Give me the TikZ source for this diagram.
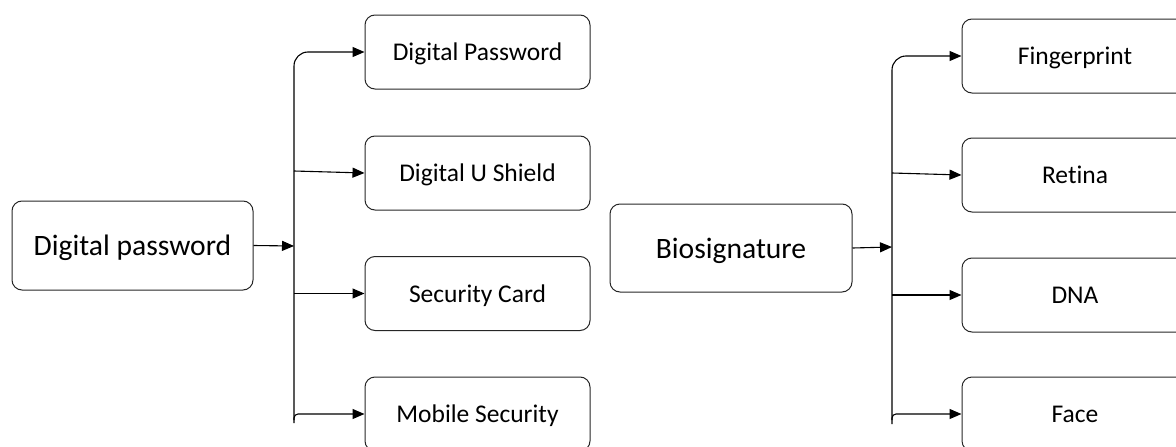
\documentclass[tikz,border=0pt]{standalone}
\usepackage{fontspec}
\setmainfont[Ligatures={NoCommon,NoContextual,NoRequired}]{Carlito}
\usetikzlibrary{arrows.meta}
\tikzset{
  box/.style={draw=black!85, line width=1pt, rounded corners=10pt, minimum width=225pt, minimum height=74pt, inner sep=0pt, text depth=0pt, font=\fontsize{25.5}{30}\selectfont},
  bigbox/.style={box, minimum width=241pt, minimum height=89pt, font=\fontsize{29.6}{34}\selectfont},
  arr/.style={draw=black, line width=1.1pt, -{Triangle[length=12pt,width=10pt]}},
  ln/.style={draw=black, line width=1pt}
}
\begin{document}
\begin{tikzpicture}[x=1pt,y=-1pt]
\path[use as bounding box] (0,0) rectangle (1176,447);
\clip (0,0) rectangle (1176,447);
% left group
\node[bigbox] (dp) at (132.5,245.5) {Digital password};
\node[box] (l1) at (477.5,52) {Digital Password};
\node[box] (l2) at (477.5,173) {Digital U Shield};
\node[box] (l3) at (477.5,293.5) {Security Card};
\node[box] (l4) at (477.5,414) {Mobile Security};
\coordinate (lt) at (294,246);
\coordinate (lb) at (294,423);
\coordinate (l2s) at (294,171);
\coordinate (l3s) at (294,293.5);
\coordinate (l4s) at (294,420);
\draw[arr] (dp.east) -- (lt);
\draw[arr, rounded corners=14pt] (lb) |- (l1.west);
\draw[arr] (l2s) -- (l2.west);
\draw[arr] (l3s) -- (l3.west);
\draw[arr, rounded corners=4pt] (l4s) |- (l4.west);
% right group
\node[bigbox, minimum width=242pt, minimum height=88pt] (bio) at (731,248) {Biosignature};
\node[box, minimum width=226pt] (r1) at (1075,56) {Fingerprint};
\node[box, minimum width=226pt] (r2) at (1075,175) {Retina};
\node[box, minimum width=226pt] (r3) at (1075,295) {DNA};
\node[box, minimum width=226pt] (r4) at (1075,414) {Face};
\coordinate (rt) at (892,247);
\coordinate (rb) at (892,424);
\coordinate (r2s) at (892,173);
\coordinate (r3s) at (892,295);
\coordinate (r4s) at (892,420);
\draw[arr] (bio.east) -- (rt);
\draw[arr, rounded corners=14pt] (rb) |- (r1.west);
\draw[arr] (r2s) -- (r2.west);
\draw[arr] (r3s) -- (r3.west);
\draw[arr, rounded corners=4pt] (r4s) |- (r4.west);
\end{tikzpicture}
\end{document}
